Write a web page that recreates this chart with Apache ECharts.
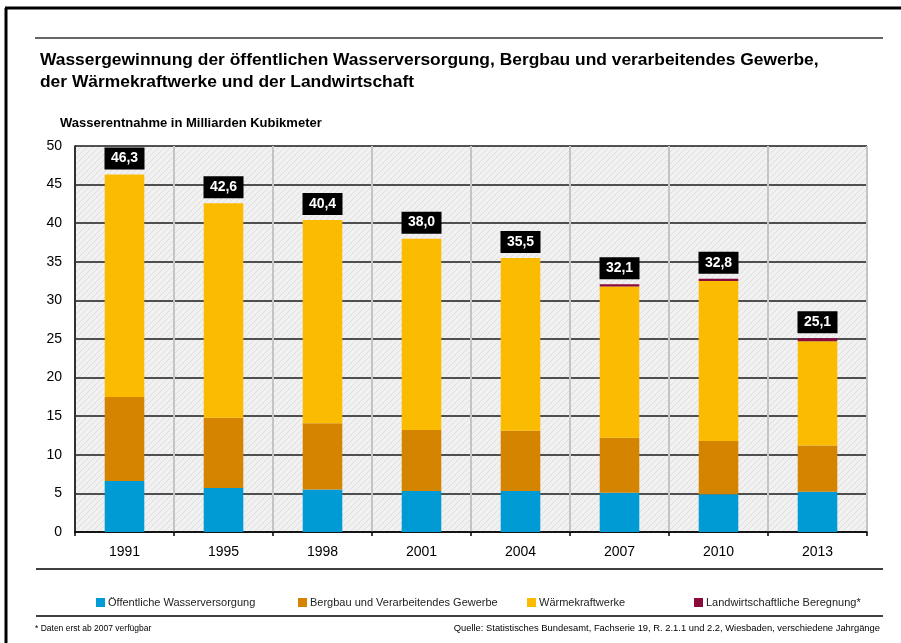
<!DOCTYPE html>
<html>
<head>
<meta charset="utf-8">
<script src="https://cdn.jsdelivr.net/npm/echarts@6/dist/echarts.min.js"></script>
<style>
  html, body { margin: 0; padding: 0; background: #fff; }
  #chart { width: 901px; height: 643px; }
</style>
</head>
<body>
<div id="chart"></div>
<script>
// categories and values (Mrd. m³)
var years = ['1991', '1995', '1998', '2001', '2004', '2007', '2010', '2013'];
var oeffentlich = [6.6, 5.7, 5.5, 5.3, 5.3, 5.1, 4.9, 5.2];
var bergbau = [10.9, 9.1, 8.6, 7.9, 7.8, 7.1, 6.9, 6.0];
var waerme = [28.8, 27.8, 26.3, 24.8, 22.4, 19.6, 20.7, 13.5];
var landwirtschaft = [0, 0, 0, 0, 0, 0.3, 0.3, 0.4];
var totals = ['46,3', '42,6', '40,4', '38,0', '35,5', '32,1', '32,8', '25,1'];
var yTicks = [0, 5, 10, 15, 20, 25, 30, 35, 40, 45, 50];

var names = ['Öffentliche Wasserversorgung', 'Bergbau und Verarbeitendes Gewerbe', 'Wärmekraftwerke', 'Landwirtschaftliche Beregnung*'];
var colors = ['#009bd4', '#d58400', '#fbbb00', '#8b0a3c'];

// hatched plot background
var pat = document.createElement('canvas');
pat.width = 6; pat.height = 6;
var pc = pat.getContext('2d');
pc.fillStyle = '#f1f1f1';
pc.fillRect(0, 0, 6, 6);
pc.strokeStyle = '#dedede';
pc.lineWidth = 1;
pc.beginPath();
pc.moveTo(0, 6); pc.lineTo(6, 0);
pc.moveTo(-1, 1); pc.lineTo(1, -1);
pc.moveTo(5, 7); pc.lineTo(7, 5);
pc.stroke();

var chart = echarts.init(document.getElementById('chart'), null, { renderer: 'canvas' });

function legendItem(i, left) {
    return {
        data: [names[i]],
        left: left,
        top: 592,
        icon: 'rect',
        itemWidth: 9,
        itemHeight: 9,
        itemGap: 3,
        textStyle: { fontFamily: 'Liberation Sans', fontSize: 11, color: '#222', padding: [0, 0, 0, -2] },
        selectedMode: false
    };
}

var series = [];
[oeffentlich, bergbau, waerme, landwirtschaft].forEach(function (d, i) {
    series.push({
        name: names[i],
        type: 'bar',
        stack: 'total',
        barWidth: '40%',
        data: d,
        itemStyle: { color: colors[i] },
        animation: false
    });
});
series[3].label = {
    show: true,
    position: 'top',
    distance: 5,
    formatter: function (p) { return totals[p.dataIndex]; },
    backgroundColor: '#000',
    color: '#fff',
    fontFamily: 'Liberation Sans',
    fontWeight: 'bold',
    fontSize: 14,
    lineHeight: 16,
    padding: [3, 4],
    width: 32,
    align: 'center'
};

var option = {
    animation: false,
    textStyle: { fontFamily: 'Liberation Sans' },
    title: [{
        text: 'Wassergewinnung der öffentlichen Wasserversorgung, Bergbau und verarbeitendes Gewerbe,\nder Wärmekraftwerke und der Landwirtschaft',
        left: 35,
        top: 44,
        textStyle: { fontFamily: 'Liberation Sans', fontSize: 17.4, fontWeight: 'bold', color: '#000', lineHeight: 22 }
    }, {
        text: 'Wasserentnahme in Milliarden Kubikmeter',
        left: 55,
        top: 112,
        textStyle: { fontFamily: 'Liberation Sans', fontSize: 13, fontWeight: 'bold', color: '#000' }
    }, {
        text: '* Daten erst ab 2007 verfügbar',
        left: 30,
        top: 619,
        textStyle: { fontFamily: 'Liberation Sans', fontSize: 8.5, fontWeight: 'normal', color: '#000' }
    }, {
        text: 'Quelle: Statistisches Bundesamt, Fachserie 19, R. 2.1.1 und 2.2, Wiesbaden, verschiedene Jahrgänge',
        right: 16,
        top: 619,
        textStyle: { fontFamily: 'Liberation Sans', fontSize: 9.4, fontWeight: 'normal', color: '#000' }
    }],
    legend: [legendItem(0, 91), legendItem(1, 293), legendItem(2, 522), legendItem(3, 689)],
    grid: {
        left: 75,
        right: 34,
        top: 146,
        bottom: 111,
        show: true,
        backgroundColor: { image: pat, repeat: 'repeat' },
        borderWidth: 0
    },
    xAxis: {
        type: 'category',
        data: years,
        axisLine: { lineStyle: { color: '#000', width: 1.5 } },
        axisTick: { show: true, length: 4, lineStyle: { color: '#000', width: 1.5 } },
        axisLabel: { fontSize: 14, color: '#000', margin: 13 },
        splitLine: { show: true, interval: 0, lineStyle: { color: '#c4c4c4', width: 2 } }
    },
    yAxis: {
        type: 'value',
        min: yTicks[0],
        max: yTicks[yTicks.length - 1],
        interval: 5,
        axisLine: { show: true, lineStyle: { color: '#000', width: 1.5 } },
        axisTick: { show: false },
        axisLabel: { fontSize: 14, color: '#000', margin: 13 },
        splitLine: { lineStyle: { color: '#1a1a1a', width: 1.5 } }
    },
    graphic: [
        // outer frame
        { type: 'line', shape: { x1: 5, y1: 8, x2: 901, y2: 8 }, style: { stroke: '#000', lineWidth: 3 } },
        { type: 'line', shape: { x1: 6, y1: 8, x2: 6, y2: 643 }, style: { stroke: '#000', lineWidth: 3 } },
        // rules
        { type: 'line', shape: { x1: 35, y1: 38, x2: 883, y2: 38 }, style: { stroke: '#666', lineWidth: 2 } },
        { type: 'line', shape: { x1: 36, y1: 569, x2: 883, y2: 569 }, style: { stroke: '#000', lineWidth: 1.5 } },
        { type: 'line', shape: { x1: 36, y1: 616, x2: 883, y2: 616 }, style: { stroke: '#000', lineWidth: 1.5 } }
    ],
    series: series
};

chart.setOption(option);
</script>
</body>
</html>
